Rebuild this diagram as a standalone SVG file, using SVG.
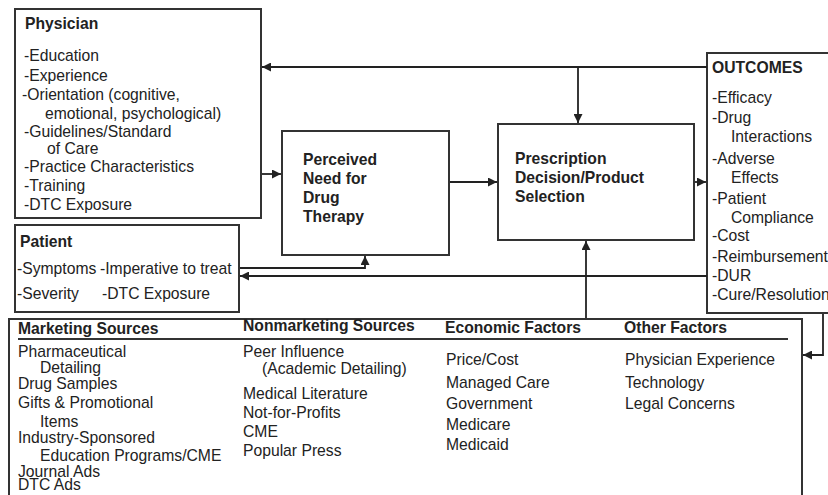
<svg xmlns="http://www.w3.org/2000/svg" width="828" height="495" viewBox="0 0 828 495">
<defs>
<marker id="arr" viewBox="0 0 10 10" refX="10" refY="5" markerWidth="9" markerHeight="9" markerUnits="userSpaceOnUse" orient="auto">
<path d="M0,0 L10,5 L0,10 z" fill="#222"/>
</marker>
<style>
.box{fill:#fff;stroke:#333;stroke-width:2}
.t{font-family:"Liberation Sans",Arial,sans-serif;font-size:15.7px;fill:#222}
.b{font-family:"Liberation Sans",Arial,sans-serif;font-size:15.7px;font-weight:bold;fill:#222}
.c{fill:none;stroke:#222;stroke-width:1.8}
</style>
</defs>
<rect width="828" height="495" fill="#fff"/>

<g id="physician">
<rect class="box" x="15" y="9" width="246" height="209"/>
<text class="b" x="25" y="29">Physician</text>
<text class="t" x="24" y="61">-Education</text>
<text class="t" x="24" y="81">-Experience</text>
<text class="t" x="22" y="100">-Orientation (cognitive,</text>
<text class="t" x="45" y="119">emotional, psychological)</text>
<text class="t" x="24" y="137">-Guidelines/Standard</text>
<text class="t" x="47" y="154">of Care</text>
<text class="t" x="24" y="172">-Practice Characteristics</text>
<text class="t" x="24" y="191">-Training</text>
<text class="t" x="24" y="210">-DTC Exposure</text>
</g>

<g id="patient">
<rect class="box" x="15" y="225" width="224" height="87"/>
<text class="b" x="20" y="247">Patient</text>
<text class="t" x="17" y="274">-Symptoms</text>
<text class="t" x="100" y="274">-Imperative to treat</text>
<text class="t" x="17" y="299">-Severity</text>
<text class="t" x="102" y="299">-DTC Exposure</text>
</g>

<g id="perceived">
<rect class="box" x="282" y="131" width="167" height="124"/>
<text class="b" x="303" y="165">Perceived</text>
<text class="b" x="303" y="184">Need for</text>
<text class="b" x="303" y="203">Drug</text>
<text class="b" x="303" y="222">Therapy</text>
</g>

<g id="prescription">
<rect class="box" x="498" y="124" width="196" height="116"/>
<text class="b" x="515" y="164">Prescription</text>
<text class="b" x="515" y="183">Decision/Product</text>
<text class="b" x="515" y="202">Selection</text>
</g>

<g id="outcomes">
<rect class="box" x="707" y="53" width="140" height="260"/>
<text class="b" x="712" y="73">OUTCOMES</text>
<text class="t" x="712" y="103">-Efficacy</text>
<text class="t" x="712" y="123">-Drug</text>
<text class="t" x="731" y="142">Interactions</text>
<text class="t" x="712" y="164">-Adverse</text>
<text class="t" x="731" y="183">Effects</text>
<text class="t" x="712" y="204">-Patient</text>
<text class="t" x="731" y="223">Compliance</text>
<text class="t" x="712" y="241">-Cost</text>
<text class="t" x="712" y="262">-Reimbursement</text>
<text class="t" x="712" y="281">-DUR</text>
<text class="t" x="712" y="300">-Cure/Resolution</text>
</g>

<g id="factors">
<rect class="box" x="9" y="319" width="793" height="190"/>
<line x1="18" y1="339" x2="788" y2="339" stroke="#333" stroke-width="2"/>
<text class="b" x="18" y="334">Marketing Sources</text>
<text class="b" x="243" y="331">Nonmarketing Sources</text>
<text class="b" x="445" y="333">Economic Factors</text>
<text class="b" x="624" y="333">Other Factors</text>
<text class="t" x="18" y="357">Pharmaceutical</text>
<text class="t" x="40" y="373">Detailing</text>
<text class="t" x="18" y="389">Drug Samples</text>
<text class="t" x="18" y="408">Gifts &amp; Promotional</text>
<text class="t" x="40" y="427">Items</text>
<text class="t" x="18" y="443">Industry-Sponsored</text>
<text class="t" x="40" y="461">Education Programs/CME</text>
<text class="t" x="18" y="477">Journal Ads</text>
<text class="t" x="18" y="490">DTC Ads</text>
<text class="t" x="243" y="357">Peer Influence</text>
<text class="t" x="262" y="374">(Academic Detailing)</text>
<text class="t" x="243" y="399">Medical Literature</text>
<text class="t" x="243" y="418">Not-for-Profits</text>
<text class="t" x="243" y="437">CME</text>
<text class="t" x="243" y="456">Popular Press</text>
<text class="t" x="446" y="365">Price/Cost</text>
<text class="t" x="446" y="388">Managed Care</text>
<text class="t" x="446" y="409">Government</text>
<text class="t" x="446" y="430">Medicare</text>
<text class="t" x="446" y="450">Medicaid</text>
<text class="t" x="625" y="365">Physician Experience</text>
<text class="t" x="625" y="388">Technology</text>
<text class="t" x="625" y="409">Legal Concerns</text>
</g>

<g id="connectors">
<path class="c" d="M707,67 H262" marker-end="url(#arr)"/>
<path class="c" d="M578,67 V123" marker-end="url(#arr)"/>
<path class="c" d="M262,174 H281" marker-end="url(#arr)"/>
<path class="c" d="M450,182 H497" marker-end="url(#arr)"/>
<path class="c" d="M695,182 H706" marker-end="url(#arr)"/>
<path class="c" d="M240,268 H365 V256" marker-end="url(#arr)"/>
<path class="c" d="M707,276 H240" marker-end="url(#arr)"/>
<path class="c" d="M586,318 V241" marker-end="url(#arr)"/>
<path class="c" d="M823,314 V355 H803" marker-end="url(#arr)"/>
</g>
</svg>
